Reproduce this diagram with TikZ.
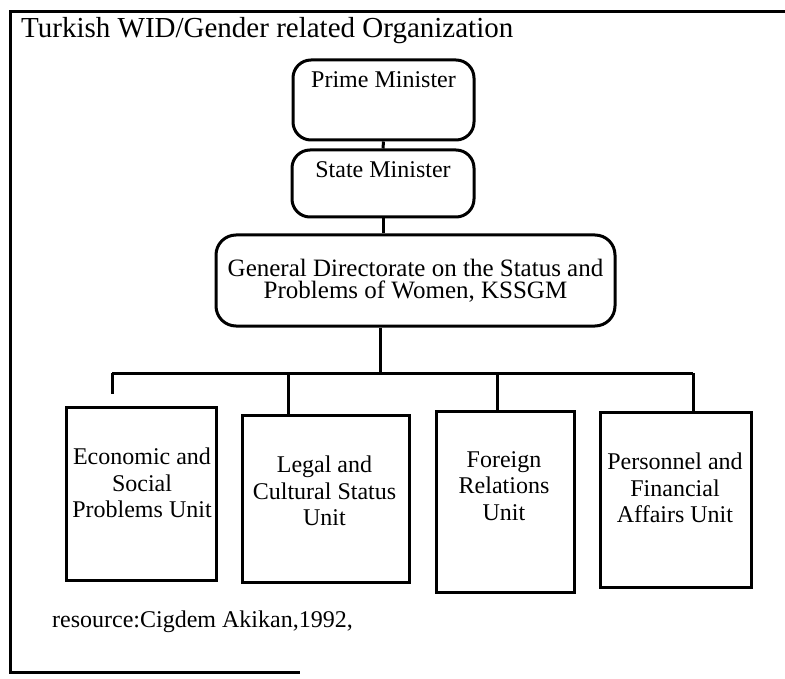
\documentclass[tikz,border=0pt]{standalone}
\usepackage{fontspec}
\setmainfont{Liberation Serif}
\begin{document}
\begin{tikzpicture}[x=1pt, y=-1pt,
    orgbox/.style={draw, line width=3pt, rounded corners=18pt, inner sep=0pt},
    unitbox/.style={draw, line width=3pt, inner sep=0pt},
    boxtext/.style={align=center, inner sep=0pt, font=\fontsize{24}{26.5}\selectfont},
    link/.style={line width=3pt}]
    \useasboundingbox (0,0) rectangle (785,679);

    % Frame (open on the right)
    \draw[line width=3pt] (785,12) -- (10,12) -- (10,672) -- (300,672);

    % Title
    \node[anchor=base west, inner sep=0pt, font=\fontsize{29}{32}\selectfont] (title) at (21,38)
        {Turkish WID/Gender related Organization};

    % Ministers
    \node[orgbox, minimum width=181pt, minimum height=80pt] (pm) at (383.5,100) {};
    \node[boxtext] (pmtext) at (383.5,79.5) {Prime Minister};
    \node[orgbox, minimum width=182pt, minimum height=67pt] (sm) at (383,183.5) {};
    \node[boxtext] (smtext) at (383,169.5) {State Minister};

    % General Directorate
    \node[orgbox, rounded corners=20pt, minimum width=399pt, minimum height=91pt,
        align=center, font=\fontsize{25}{22.5}\selectfont] (gd) at (415.5,280.5)
        {General Directorate on the Status and\\Problems of Women, KSSGM};

    % Units
    \node[unitbox, minimum width=150pt, minimum height=173pt] (econ) at (141,493.5) {};
    \node[boxtext] (econtext) at (142,483) {Economic and\\Social\\Problems Unit};
    \node[unitbox, minimum width=167pt, minimum height=167pt] (legal) at (325.5,498.5) {};
    \node[boxtext] (legaltext) at (324.5,491) {Legal and\\Cultural Status\\Unit};
    \node[unitbox, minimum width=138pt, minimum height=181pt] (foreign) at (505,501.5) {};
    \node[boxtext] (foreigntext) at (504,486) {Foreign\\Relations\\Unit};
    \node[unitbox, minimum width=151pt, minimum height=175pt] (pers) at (675.5,499.5) {};
    \node[boxtext] (perstext) at (675,488) {Personnel and\\Financial\\Affairs Unit};

    % Connectors
    \coordinate (bus) at (380,373);
    \coordinate (econ-drop) at (112,373);
    \coordinate (legal-drop) at (288,373);
    \coordinate (foreign-drop) at (497,373);
    \coordinate (pers-drop) at (693,373);
    \draw[link] (pm.south) -- (sm.north);
    \draw[link] (sm.south) -- (sm.south |- gd.north);
    \draw[link] (gd.south -| bus) -- (bus);
    \draw[link] (econ-drop) -- (pers-drop);
    \draw[link, shorten >=12pt] (econ-drop) -- (econ-drop |- econ.north);
    \foreach \u in {legal, foreign, pers} {
        \draw[link] (\u-drop) -- (\u-drop |- \u.north);
    }

    % Source
    \node[anchor=base west, inner sep=0pt, font=\fontsize{24}{26}\selectfont] (source) at (52,627)
        {resource:Cigdem Akikan,1992,};
\end{tikzpicture}
\end{document}
